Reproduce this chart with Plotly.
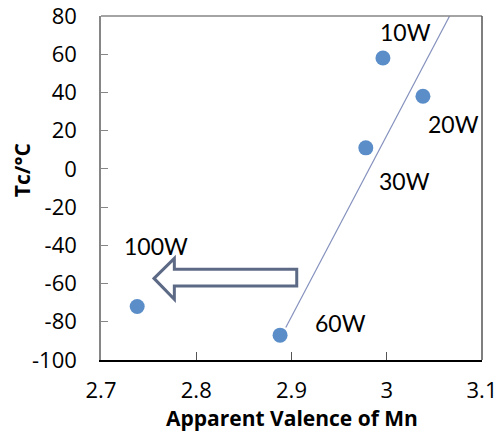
import plotly.graph_objects as go

# Data
labels = ["10W", "20W", "30W", "60W", "100W"]
valence = [2.996, 3.038, 2.978, 2.888, 2.738]
tc = [58, 38, 11, -87, -72]
# label anchor positions (data coords)
label_x = [3.020, 3.070, 3.019, 2.951, 2.758]
label_y = [71.4, 23.5, -6.3, -80.6, -40.4]
# linear trend line endpoints
trend_x = [2.894, 3.066]
trend_y = [-83, 80]
x_ticks = [2.7, 2.8, 2.9, 3.0, 3.1]
x_ticktext = ["2.7", "2.8", "2.9", "3", "3.1"]
y_ticks = [80, 60, 40, 20, 0, -20, -40, -60, -80, -100]
y_ticktext = ["80", "60", "40", "20", "0", "-20", "-40", "-60", "-80", "-100"]

fig = go.Figure()
fig.add_trace(go.Scatter(x=trend_x, y=trend_y, mode="lines",
                         line=dict(color="#8591bd", width=1.2),
                         showlegend=False, hoverinfo="skip"))
fig.add_trace(go.Scatter(x=valence, y=tc, mode="markers",
                         marker=dict(color="#5b8ec9", size=15),
                         showlegend=False))

for t, lx, ly in zip(labels, label_x, label_y):
    fig.add_annotation(x=lx, y=ly, text=t, showarrow=False,
                       xanchor="center", yanchor="middle",
                       font=dict(family="Lato", size=23, color="black"))

# hollow left-pointing block arrow
ax_tip, ax_head, ax_end = 2.7557, 2.777, 2.9055
ay_mid, ay_ht, ay_hb, ay_bt, ay_bb = -57.3, -46.8, -68.2, -52.5, -61.3
path = (f"M {ax_tip},{ay_mid} L {ax_head},{ay_ht} L {ax_head},{ay_bt} "
        f"L {ax_end},{ay_bt} L {ax_end},{ay_bb} L {ax_head},{ay_bb} "
        f"L {ax_head},{ay_hb} Z")
fig.add_shape(type="path", path=path, xref="x", yref="y",
              line=dict(color="#5d6a86", width=3), fillcolor="rgba(255,255,255,0)")

# top / right border of plot area
fig.add_shape(type="line", xref="paper", yref="paper", x0=0, x1=1, y0=1, y1=1,
              line=dict(color="#868686", width=1.5))
fig.add_shape(type="line", xref="paper", yref="paper", x0=1, x1=1, y0=0, y1=1,
              line=dict(color="#555555", width=1.5))

# axis titles
fig.add_annotation(xref="paper", yref="paper", x=0.5, y=-0.168,
                   text="<b>Apparent Valence of Mn</b>", showarrow=False,
                   xanchor="center", yanchor="middle",
                   font=dict(family="Open Sans", size=21, color="black"))
fig.add_annotation(xref="paper", yref="paper", x=-0.207, y=0.552,
                   text="<b>Tc/°C</b>", showarrow=False, textangle=-90,
                   xanchor="center", yanchor="middle",
                   font=dict(family="Open Sans", size=21, color="black"))

fig.update_xaxes(range=[2.7, 3.1], tickvals=x_ticks, ticktext=x_ticktext,
                 showline=True, linecolor="black", linewidth=1.5,
                 ticks="inside", ticklen=8, tickcolor="#555555",
                 showgrid=False, zeroline=False, ticklabelstandoff=10,
                 automargin=False,
                 tickfont=dict(family="Open Sans", size=22, color="black"))
fig.update_yaxes(range=[-100, 80.0001], tickvals=y_ticks, ticktext=y_ticktext,
                 showline=True, linecolor="#868686", linewidth=1.5,
                 ticks="inside", ticklen=7, tickcolor="#868686",
                 showgrid=False, zeroline=False, ticklabelstandoff=18,
                 ticklabeloverflow="allow", automargin=False,
                 tickfont=dict(family="Open Sans", size=22, color="black"))

fig.update_layout(width=499, height=432,
                  margin=dict(l=101, r=17, t=16, b=72),
                  plot_bgcolor="white", paper_bgcolor="white")

fig.write_html("out.html")
